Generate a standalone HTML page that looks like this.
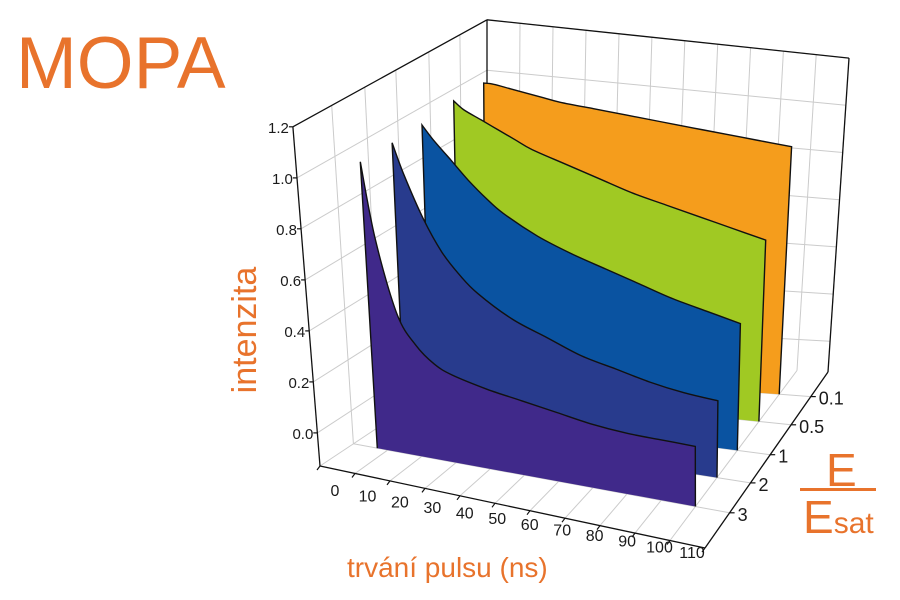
<!DOCTYPE html>
<html><head><meta charset="utf-8"><style>
html,body{margin:0;padding:0;background:#fff;}
svg{display:block;font-family:"Liberation Sans",Arial,sans-serif;}
</style></head><body>
<svg id="chart" width="900" height="600" viewBox="0 0 900 600" xmlns="http://www.w3.org/2000/svg">
<text x="16" y="88" font-size="73" fill="#e8732c">MOPA</text>
<text transform="translate(256,330) rotate(-90)" text-anchor="middle" font-size="34" fill="#e8732c">intenzita</text>
<text x="347" y="577" font-size="28" fill="#e8732c">trvání pulsu (ns)</text>
<g fill="#e8732c">
<text x="826" y="486" font-size="46">E</text>
<rect x="800" y="488" width="76" height="3"></rect>
<text x="803" y="533" font-size="46">E<tspan font-size="30">sat</tspan></text>
</g>
<g id="grid"></g><g id="backedges"></g><g id="slices"></g><g id="edges"></g><g id="labels"></g>
</svg>
<script>
// ---- data ----
const times = [7,10,15,20,25,30,40,50,60,70,80,90,100];
const energyLabels = ["3","2","1","0.5","0.1"];
const energyDepth = [0.2,0.37,0.53,0.70,0.86];
const seriesPurple = [1.0,0.70,0.42,0.31,0.25,0.22,0.19,0.17,0.15,0.13,0.12,0.12,0.12];
const seriesDarkBlue = [1.0,0.88,0.72,0.60,0.52,0.46,0.38,0.33,0.28,0.25,0.22,0.20,0.19];
const seriesBlue = [1.0,0.95,0.88,0.81,0.75,0.70,0.63,0.58,0.54,0.50,0.46,0.43,0.40];
const seriesGreen = [1.02,0.99,0.96,0.93,0.90,0.87,0.83,0.79,0.75,0.72,0.69,0.66,0.63];
const seriesOrange = [1.02,1.02,1.01,1.0,0.99,0.98,0.97,0.96,0.95,0.94,0.93,0.92,0.91];
const timeTicks = [0,10,20,30,40,50,60,70,80,90,100,110];
const intensityTicks = [0.0,0.2,0.4,0.6,0.8,1.0,1.2];
const intensityTickLabels = ["0.0","0.2","0.4","0.6","0.8","1.0","1.2"];

const seriesList = [seriesPurple,seriesDarkBlue,seriesBlue,seriesGreen,seriesOrange];
const seriesColors = ["#40298a","#283b8d","#0a53a1","#a0c923","#f59d1c"];
const seriesNames = ["slice-e3","slice-e2","slice-e1","slice-e05","slice-e01"];

// ---- projection ----
const TMAX=110, IMIN=-0.13, IMAX=1.2;
const FL=[320,466], FR=[705,548], BL=[487,355], BR=[828,372];
const K={fl:255,fr:240,bl:252,br:236};
const S={fl:-0.08,fr:-0.01,bl:0,br:0.067};
function bil(a,b,c,d,u,v){return (1-u)*(1-v)*a+u*(1-v)*b+(1-u)*v*c+u*v*d;}
function P(t,d,I){
  const u=t/TMAX;
  const fx=bil(FL[0],FR[0],BL[0],BR[0],u,d), fy=bil(FL[1],FR[1],BL[1],BR[1],u,d);
  const k=bil(K.fl,K.fr,K.bl,K.br,u,d), s=bil(S.fl,S.fr,S.bl,S.br,u,d);
  const h=(I-IMIN)*k;
  return [fx+s*h, fy-h];
}
const NS="http://www.w3.org/2000/svg";
function el(tag,attrs,parent){const e=document.createElementNS(NS,tag);for(const k in attrs)e.setAttribute(k,attrs[k]);parent.appendChild(e);return e;}
function line(a,b,stroke,w,parent,name){
  const e=el("line",{x1:a[0].toFixed(1),y1:a[1].toFixed(1),x2:b[0].toFixed(1),y2:b[1].toFixed(1),stroke:stroke,"stroke-width":w},parent);
  
  
  return e;
}
const grid=document.getElementById("grid"), backedges=document.getElementById("backedges"), slices=document.getElementById("slices"), edges=document.getElementById("edges"), labels=document.getElementById("labels");
const GC="#cbcbcb";
timeTicks.forEach(t=>line(P(t,1,IMIN),P(t,1,IMAX),GC,1,grid,"back-wall-gridline"));
intensityTicks.forEach(I=>line(P(0,1,I),P(TMAX,1,I),GC,1,grid,"back-wall-gridline"));
intensityTicks.forEach(I=>line(P(0,0,I),P(0,1,I),GC,1,grid,"left-wall-gridline"));
energyDepth.forEach(d=>line(P(0,d,IMIN),P(0,d,IMAX),GC,1,grid,"left-wall-gridline"));
timeTicks.forEach(t=>line(P(t,0,IMIN),P(t,1,IMIN),GC,1,grid,"floor-gridline"));
energyDepth.forEach(d=>line(P(0,d,IMIN),P(TMAX,d,IMIN),GC,1,grid,"floor-gridline"));

const EC="#111";
line(P(0,0,IMAX),P(0,1,IMAX),EC,1.3,backedges,"box-edge");
line(P(0,1,IMIN),P(0,1,IMAX),EC,1.3,backedges,"box-edge");
line(P(0,1,IMAX),P(TMAX,1,IMAX),EC,1.3,backedges,"box-edge");
line(P(TMAX,1,IMIN),P(TMAX,1,IMAX),EC,1.3,backedges,"box-edge");

function smoothPath(pts){
  let s="M"+pts[0][0].toFixed(1)+","+pts[0][1].toFixed(1);
  for(let i=0;i<pts.length-1;i++){
    const p0=pts[Math.max(0,i-1)],p1=pts[i],p2=pts[i+1],p3=pts[Math.min(pts.length-1,i+2)];
    const c1=[p1[0]+(p2[0]-p0[0])/6,p1[1]+(p2[1]-p0[1])/6];
    const c2=[p2[0]-(p3[0]-p1[0])/6,p2[1]-(p3[1]-p1[1])/6];
    s+=" C"+c1[0].toFixed(1)+","+c1[1].toFixed(1)+" "+c2[0].toFixed(1)+","+c2[1].toFixed(1)+" "+p2[0].toFixed(1)+","+p2[1].toFixed(1);
  }
  return s;
}
for(let si=seriesList.length-1;si>=0;si--){
  const vals=seriesList[si], d=energyDepth[si];
  const top=times.map((t,i)=>P(t,d,vals[i]));
  const b0=P(times[0],d,IMIN), b1=P(times[times.length-1],d,IMIN);
  const g=el("g",{},slices);
  
  
  const topPath=smoothPath(top);
  const fill=el("path",{d:topPath+" L"+b1[0].toFixed(1)+","+b1[1].toFixed(1)+" L"+b0[0].toFixed(1)+","+b0[1].toFixed(1)+" Z",fill:seriesColors[si],stroke:"none"},g);
  
  
  const out=el("path",{d:"M"+b0[0].toFixed(1)+","+b0[1].toFixed(1)+" L"+top[0][0].toFixed(1)+","+top[0][1].toFixed(1)+" "+topPath.replace(/^M[^ ]+/,"")+" L"+b1[0].toFixed(1)+","+b1[1].toFixed(1),fill:"none",stroke:"#111","stroke-width":1.4},g);
  
  
}

line(P(0,0,IMIN),P(0,0,IMAX),EC,1.3,edges,"y-axis-line");
line(P(0,0,IMIN),P(TMAX,0,IMIN),EC,1.3,edges,"x-axis-line");
line(P(TMAX,0,IMIN),P(TMAX,1,IMIN),EC,1.3,edges,"depth-axis-line");

function txt(x,y,s,anchor,size,name){
  const e=el("text",{x:x.toFixed(1),y:y.toFixed(1),"font-size":size,fill:"#1a1a1a","text-anchor":anchor},labels);
  e.textContent=s;
  
  
}
intensityTicks.forEach((I,i)=>{
  const p=P(0,0,I);
  line([p[0]-4,p[1]],p,EC,1.2,edges,"y-tick");
  txt(p[0]-4,p[1]+6,intensityTickLabels[i],"end",15,"y-tick-label");
});
timeTicks.forEach(t=>{
  const u=t/TMAX, p=P(t,0,IMIN);
  line(p,[p[0]-3,p[1]+4],EC,1.2,edges,"x-tick");
  txt(p[0]+15-28*u,p[1]+30-20*u,String(t),"middle",16,"x-tick-label");
});
energyDepth.forEach((d,i)=>{
  const p=P(TMAX,d,IMIN);
  line(p,[p[0]+5,p[1]],EC,1.2,edges,"depth-tick");
  txt(p[0]+8,p[1]+8,energyLabels[i],"start",18,"depth-tick-label");
});
</script>
</body></html>
